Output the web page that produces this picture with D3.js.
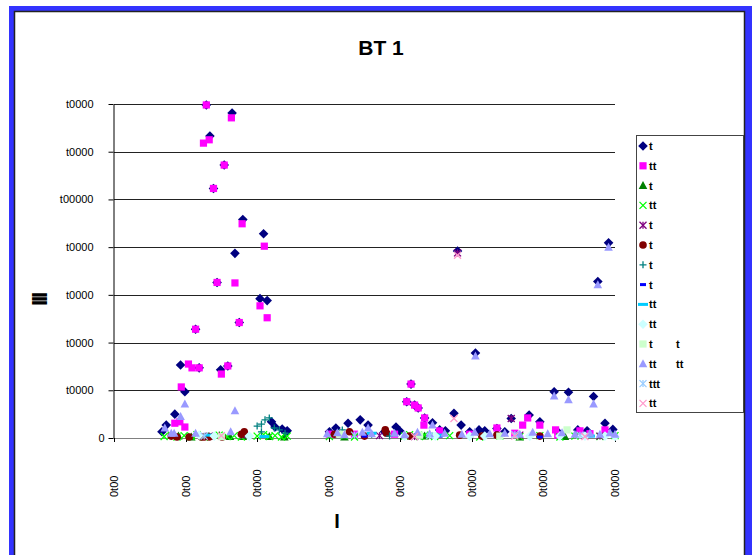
<!DOCTYPE html>
<html>
<head>
<meta charset="utf-8">
<script src="https://cdn.jsdelivr.net/npm/d3@7"></script>
<style>
  body { margin: 0; background: #fff; }
  svg text { font-family: "Liberation Sans", Arial, sans-serif; }
</style>
</head>
<body>
<div id="chart"></div>
<script>
'use strict';

// chart texts
const title = 'BT 1';
const yTicks = [0, 10000, 20000, 30000, 40000, 50000, 60000, 70000];
const yTickLabels = ['0', 't0000', 't0000', 't0000', 't0000', 't00000', 't0000', 't0000'];
const xTicks = [0, 100, 200, 300, 400, 500, 600, 700];
const xTickLabels = ['0t00', '0t00', '0t000', '0t00', '0t00', '0t000', '0t000', '0t000'];
const legendLabels = ['t', 'tt', 't', 'tt', 't', 't', 't', 't', 'tt', 'tt', 't', 'tt', 'ttt', 'tt'];
const legendLabels2 = ['', '', '', '', '', '', '', '', '', '', 't', 'tt', '', ''];

// series style (colour + marker), in legend order
const seriesColors = ['#000080', '#FF00FF', '#008000', '#00FF00', '#800080', '#800000', '#008080',
                      '#0000FF', '#00CCFF', '#CCFFFF', '#CCFFCC', '#9999FF', '#99CCFF', '#FF99CC'];
const seriesMarkers = ['diamond', 'square', 'triangle', 'x', 'star', 'circle', 'plus',
                       'dash', 'longdash', 'diamond', 'square', 'triangle', 'xstar', 'x'];

// series values [x, y]
const s1 = [[129,69800],[165,68100],[134,63300],[154,57200],[139,52300],[180,45800],[209,42800],[169,38700],
  [144,32600],[204,29200],[214,28800],[175,24200],[114,22800],[93,15300],[119,14700],[149,14300],[159,15100],
  [99,9700],[85,5000],[73,2700],[67,1300],[220,3400],[225,2300],[235,1900],[242,1500],
  [691,40900],[480,39200],[676,32800],[505,17800],[415,11300],[615,9700],[635,9600],[670,8700],[409,7600],
  [420,6900],[425,6300],[434,4200],[445,3200],[475,5200],[485,2700],[555,4100],[580,4800],[595,3400],
  [344,3800],[327,3100],[310,2100],[355,2700],[535,2000],[686,3100],[697,1800],[301,1300],[378,1300],
  [399,1500],[455,1700],[497,1300],[518,1500],[546,1300],[620,1300],[648,1700],[661,1500],[394,2300],
  [463,1500],[510,1700]];
const s2 = [[129,69800],[164,67100],[133,62500],[125,61800],[154,57200],[139,52300],[179,44900],[210,40200],
  [144,32600],[169,32500],[204,27700],[214,25200],[175,24200],[114,22800],[104,15500],[109,14700],[119,14700],
  [150,13400],[159,15100],[94,10700],[85,3100],[99,2300],[92,3400],
  [415,11300],[409,7600],[420,6900],[425,6300],[434,4200],[433,2700],[578,4200],[571,2700],[595,2700],
  [535,2100],[686,1700],[455,1500],[617,1700],[651,1500],[301,800],[336,800],[392,800],[497,800],[620,600],
  [560,1000],[665,900]];
const s3 = [[108,200],[147,500],[162,300],[217,300],[238,200],[322,200],[434,400],[567,200],[630,300],[90,400],[180,300]];
const s4 = [[70,300],[80,600],[88,200],[98,500],[108,300],[116,700],[126,200],[136,400],[147,600],[158,300],
  [168,500],[178,200],[200,400],[209,700],[217,300],[225,500],[234,200],[242,400],
  [301,300],[322,500],[336,200],[406,400],[413,700],[420,500],[427,300],[434,600],[448,300],[469,500],
  [511,200],[539,400],[567,300],[595,500],[623,200],[644,400],[679,300],[700,500]];
const s5 = [[480,38800],[555,4100],[133,400],[182,600],[315,900],[371,500],[567,600],[679,400],[420,300]];
const s6 = [[80,400],[122,200],[126,200],[133,200],[151,200],[178,800],[182,1300],[88,200],[105,200],
  [329,1300],[379,1700],[381,1000],[483,600],[514,400],[535,600],[350,400],[413,400],[308,800],[595,400]];
const s7 = [[200,2500],[206,2900],[211,3800],[217,4200],[224,2100],[231,1700],[206,1300],[239,1000],
  [319,1700],[360,800],[385,400]];
const s8 = [[350,400],[455,400],[595,200],[150,300]];
const s9 = [[133,600],[360,1000],[455,600],[665,400],[210,300]];
const s10 = [[119,600],[140,400],[189,400],[406,400],[449,400],[497,400],[518,400],[581,400],[623,400],
  [658,400],[686,400],[700,300]];
const s11 = [[633,1700],[315,800],[427,600],[539,400],[150,300]];
const s12 = [[99,7100],[169,5700],[93,4500],[71,2100],[84,1000],[114,1000],[163,1300],[80,1000],
  [691,40000],[676,32100],[505,17200],[615,8800],[635,8000],[670,7100],[445,2700],[355,2100],
  [298,900],[312,1100],[322,700],[347,1200],[360,900],[392,1000],[406,700],[424,1200],[441,900],[462,1000],
  [486,800],[504,1200],[525,900],[546,1000],[567,800],[585,1200],[606,900],[626,1100],[644,800],[665,1000],
  [679,800],[693,1100],[700,800]];
const s13 = [[126,400],[336,600],[441,500],[560,700],[651,600]];
const s14 = [[480,38300],[475,4100],[420,300],[560,400],[658,300],[150,500]];

const allSeries = [s1, s2, s3, s4, s5, s6, s7, s8, s9, s10, s11, s12, s13, s14];

const width = 752, height = 555;

const svg = d3.select('#chart').append('svg')
  .attr('width', width)
  .attr('height', height);

// blue frame + inner chart area border
svg.append('rect').attr('x', 9).attr('y', 6).attr('width', 760).attr('height', 560).attr('fill', '#3333FF');
svg.append('rect').attr('x', 14.5).attr('y', 11.5).attr('width', 730).attr('height', 560)
  .attr('fill', '#fff').attr('stroke', '#222').attr('stroke-width', 1.5);

// scales
const x = d3.scaleLinear().domain([0, 700]).range([114, 615]);
const y = d3.scaleLinear().domain([0, 70000]).range([438, 104]);

// title
svg.append('text').attr('x', 381).attr('y', 55).attr('text-anchor', 'middle')
  .attr('font-size', 21).attr('font-weight', 'bold').text(title);

// gridlines
svg.append('g').selectAll('line').data(yTicks).join('line')
  .attr('x1', x(0)).attr('x2', 615)
  .attr('y1', d => Math.round(y(d)) + 0.5).attr('y2', d => Math.round(y(d)) + 0.5)
  .attr('stroke', d => d === 0 ? '#808080' : '#222').attr('stroke-width', 1);

// y axis
const yAxis = svg.append('g')
  .attr('transform', `translate(${x(0) - 0.5},0)`)
  .call(d3.axisLeft(y).tickValues(yTicks).tickSize(5).tickSizeOuter(0)
    .tickFormat((d, i) => yTickLabels[i]));
yAxis.select('.domain').attr('stroke', '#000');
yAxis.selectAll('.tick line').attr('stroke', '#000');
yAxis.selectAll('.tick text').attr('font-size', 11).attr('fill', '#000')
  .attr('font-family', '"Liberation Sans", Arial, sans-serif')
  .attr('x', (d, i) => i === 0 ? -9 : -20);

// x axis ticks + rotated labels
const xAxis = svg.append('g');
xAxis.selectAll('line').data(xTicks).join('line')
  .attr('x1', d => Math.round(x(d)) + 0.5).attr('x2', d => Math.round(x(d)) + 0.5)
  .attr('y1', 438).attr('y2', 442).attr('stroke', '#000');
xAxis.selectAll('text').data(xTicks).join('text')
  .attr('transform', d => `translate(${x(d) + 4},497) rotate(-90)`)
  .attr('font-size', 11).attr('fill', '#000')
  .text((d, i) => xTickLabels[i]);

// axis titles
svg.append('text').attr('x', 337).attr('y', 528).attr('text-anchor', 'middle')
  .attr('font-size', 20).attr('font-weight', 'bold').text('I');
svg.append('text').attr('transform', 'translate(47,300) rotate(-90)').attr('text-anchor', 'middle')
  .attr('font-size', 22).attr('font-weight', 'bold').attr('letter-spacing', -2.2).text('III');

// marker drawing (sizes roughly as the spreadsheet draws them)
function drawMarker(g, type, color) {
  if (type === 'diamond') {
    const r = 4.8;
    g.append('path').attr('d', `M0,${-r}L${r},0L0,${r}L${-r},0Z`).attr('fill', color);
  } else if (type === 'square') {
    g.append('rect').attr('x', -3.6).attr('y', -3.6).attr('width', 7.2).attr('height', 7.2).attr('fill', color);
  } else if (type === 'triangle') {
    g.append('path').attr('d', 'M0,-4.5L4.3,3.5L-4.3,3.5Z').attr('fill', color);
  } else if (type === 'circle') {
    g.append('circle').attr('r', 3.8).attr('fill', color);
  } else if (type === 'x' || type === 'xstar' || type === 'star') {
    const k = 3.5;
    g.append('path').attr('d', `M${-k},${-k}L${k},${k}M${-k},${k}L${k},${-k}`)
      .attr('stroke', color).attr('stroke-width', 1.3).attr('fill', 'none');
    if (type !== 'x') {
      g.append('path').attr('d', `M0,${-k}L0,${k}`).attr('stroke', color).attr('stroke-width', 1.3);
    }
  } else if (type === 'plus') {
    const k = 3.5;
    g.append('path').attr('d', `M${-k},0L${k},0M0,${-k}L0,${k}`)
      .attr('stroke', color).attr('stroke-width', 1.3).attr('fill', 'none');
  } else if (type === 'dash') {
    g.append('rect').attr('x', -3).attr('y', -1.5).attr('width', 6).attr('height', 3).attr('fill', color);
  } else if (type === 'longdash') {
    g.append('rect').attr('x', -5).attr('y', -1.5).attr('width', 10).attr('height', 3).attr('fill', color);
  }
}

// draw series in legend order, later series on top (as the spreadsheet does)
const plot = svg.append('g');
allSeries.forEach((data, s) => {
  plot.append('g').selectAll('g').data(data).join('g')
    .attr('transform', d => `translate(${x(d[0])},${y(d[1])})`)
    .each(function () { drawMarker(d3.select(this), seriesMarkers[s], seriesColors[s]); });
});

// legend
const legend = svg.append('g');
legend.append('rect').attr('x', 636.5).attr('y', 135.5).attr('width', 107).attr('height', 277)
  .attr('fill', '#fff').attr('stroke', '#444').attr('stroke-width', 1);
const items = legend.selectAll('g.item').data(legendLabels).join('g').classed('item', true)
  .attr('transform', (d, i) => `translate(643,${146 + i * 19.8})`);
items.each(function (d, i) { drawMarker(d3.select(this), seriesMarkers[i], seriesColors[i]); });
items.append('text').attr('x', 6).attr('y', 4).attr('font-size', 11).attr('font-weight', 'bold').text(d => d);
items.append('text').attr('x', 33).attr('y', 4).attr('font-size', 11).attr('font-weight', 'bold')
  .text((d, i) => legendLabels2[i]);
</script>
</body>
</html>
